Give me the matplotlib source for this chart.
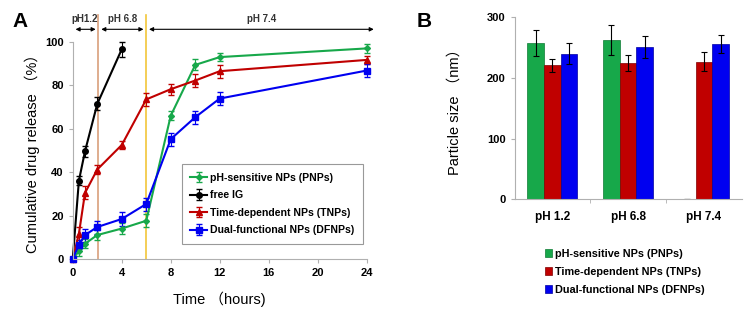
import matplotlib
matplotlib.use('Agg')
import matplotlib.pyplot as plt
import numpy as np

plt.rcParams['font.family'] = ['Liberation Sans', 'Noto Sans CJK SC', 'DejaVu Sans']

# ---- panel A data ----
t_full = [0, 0.5, 1, 2, 4, 6, 8, 10, 12, 24]
t_ig = [0, 0.5, 1, 2, 4]
pnp = [0, 3.5, 7, 11, 14, 17.6, 66, 89.4, 93, 97]
pnp_err = [0, 2, 2, 2.5, 2.5, 3, 2, 2.5, 2, 2]
ig = [0, 36, 49.6, 71.4, 96.6]
ig_err = [0, 2, 2.5, 3, 3.5]
tnp = [0, 11.5, 30.4, 41.2, 52.5, 73.5, 78.2, 82.2, 86.5, 91.7]
tnp_err = [0, 3, 3, 2, 2, 3, 2.5, 3, 3, 2]
dfnp = [0, 6.6, 11, 14.7, 18.4, 25.3, 55.2, 65.3, 73.9, 86.8]
dfnp_err = [0, 2, 3, 3, 3, 3, 3, 3, 3, 3]

# ---- panel B data ----
ph_labels = ['pH 1.2', 'pH 6.8', 'pH 7.4']
size_pnp = [258, 263, 1]
size_pnp_err = [21, 25, 0]
size_tnp = [221, 225, 227]
size_tnp_err = [11, 13, 16]
size_dfnp = [240, 251, 256]
size_dfnp_err = [17, 18, 15]

GREEN = '#17a84a'
RED = '#c00000'
BLUE = '#0000f0'
GRAY = '#b0b0b0'

fig = plt.figure(figsize=(7.5, 3.15), dpi=100)

# =============== A ===============
ax = fig.add_axes([0.097, 0.178, 0.392, 0.689])
common = dict(lw=1.5, capsize=2, elinewidth=0.8, clip_on=False)
ax.errorbar(t_full, pnp, yerr=pnp_err, color=GREEN, marker='D', ms=3,
            label='pH-sensitive NPs (PNPs)', **common)
ax.errorbar(t_ig, ig, yerr=ig_err, color='black', marker='o', ms=4,
            label='free IG', **common)
ax.errorbar(t_full, tnp, yerr=tnp_err, color=RED, marker='^', ms=4.5,
            label='Time-dependent NPs (TNPs)', **common)
ax.errorbar(t_full, dfnp, yerr=dfnp_err, color=BLUE, marker='s', ms=5,
            label='Dual-functional NPs (DFNPs)', **common)

ax.set_xlim(0, 24)
ax.set_ylim(0, 100)
ax.set_xticks(np.arange(0, 25, 4))
ax.set_yticks([0, 20, 40, 60, 80, 100])
for lab in ax.get_xticklabels() + ax.get_yticklabels():
    lab.set_fontweight('bold')
ax.tick_params(labelsize=8, length=3, color=GRAY, width=0.8)
ax.spines['top'].set_visible(False)
ax.spines['right'].set_visible(False)
ax.spines['left'].set_color(GRAY)
ax.spines['bottom'].set_color(GRAY)

# pH phase markers
ax.plot([2.1, 2.1], [0, 112.5], color='#d9a07c', lw=1.2, clip_on=False, zorder=1)
ax.plot([6, 6], [0, 112.5], color='#f2c63a', lw=1.2, clip_on=False, zorder=1)
arr = dict(arrowstyle='<|-|>', color='black', lw=0.8, mutation_scale=6)
ax.annotate('', xy=(0, 105.8), xytext=(2.1, 105.8), arrowprops=arr, annotation_clip=False)
ax.annotate('', xy=(2.1, 105.8), xytext=(6, 105.8), arrowprops=arr, annotation_clip=False)
ax.annotate('', xy=(6, 105.8), xytext=(24.8, 105.8), arrowprops=arr, annotation_clip=False)
ax.text(0.95, 110.5, 'pH1.2', ha='center', va='center', fontsize=7, fontweight='bold', color='#333333')
ax.text(4.1, 110.5, 'pH 6.8', ha='center', va='center', fontsize=7, fontweight='bold', color='#333333')
ax.text(15.4, 110.5, 'pH 7.4', ha='center', va='center', fontsize=7, fontweight='bold', color='#333333')

ax.set_ylabel('Cumulative drug release （%）', fontsize=10.5)
ax.set_xlabel('Time （hours)', fontsize=10.5, labelpad=10)

leg = ax.legend(loc='lower right', bbox_to_anchor=(1.005, 0.045),
                prop={'weight': 'bold', 'size': 7.6}, frameon=True, fancybox=False,
                edgecolor='#808080', handlelength=1.6, handletextpad=0.3,
                labelspacing=0.72, borderpad=0.8)
leg.get_frame().set_linewidth(0.8)

fig.text(0.017, 0.915, 'A', fontsize=15, fontweight='bold')

# =============== B ===============
bx = fig.add_axes([0.686, 0.367, 0.303, 0.578])
x = np.arange(len(ph_labels))
w = 0.22
ek = dict(ecolor='black', capsize=2.5, error_kw=dict(elinewidth=0.8, capthick=0.8))
bx.bar(x - w, size_pnp, w, yerr=size_pnp_err, color=GREEN, edgecolor='#0f7a35', lw=0.5,
       label='pH-sensitive NPs (PNPs)', **ek)
bx.bar(x, size_tnp, w, yerr=size_tnp_err, color=RED, edgecolor='#800000', lw=0.5,
       label='Time-dependent NPs (TNPs)', **ek)
bx.bar(x + w, size_dfnp, w, yerr=size_dfnp_err, color=BLUE, edgecolor='#0000a0', lw=0.5,
       label='Dual-functional NPs (DFNPs)', **ek)
bx.set_xlim(-0.5, 2.5)
bx.set_ylim(0, 300)
bx.set_yticks([0, 100, 200, 300])
bx.set_xticks(x)
bx.set_xticklabels(ph_labels)
bx.set_xticks([0.5, 1.5], minor=True)
for lab in bx.get_xticklabels() + bx.get_yticklabels():
    lab.set_fontweight('bold')
bx.tick_params(axis='y', labelsize=8, length=3, color=GRAY)
bx.tick_params(axis='x', which='major', labelsize=8.5, length=0, pad=8)
bx.tick_params(axis='x', which='minor', length=3, color=GRAY)
bx.spines['top'].set_visible(False)
bx.spines['right'].set_visible(False)
bx.spines['left'].set_color(GRAY)
bx.spines['bottom'].set_color(GRAY)
bx.set_ylabel('Particle size （nm）', fontsize=10.5, labelpad=18)

bleg = bx.legend(loc='upper left', bbox_to_anchor=(0.11, -0.24), frameon=False,
                 prop={'weight': 'bold', 'size': 7.8}, handlelength=0.7, handleheight=0.7,
                 handletextpad=0.2, labelspacing=0.75, borderpad=0)

fig.text(0.556, 0.915, 'B', fontsize=15, fontweight='bold')

plt.savefig('out.png', dpi=100)
